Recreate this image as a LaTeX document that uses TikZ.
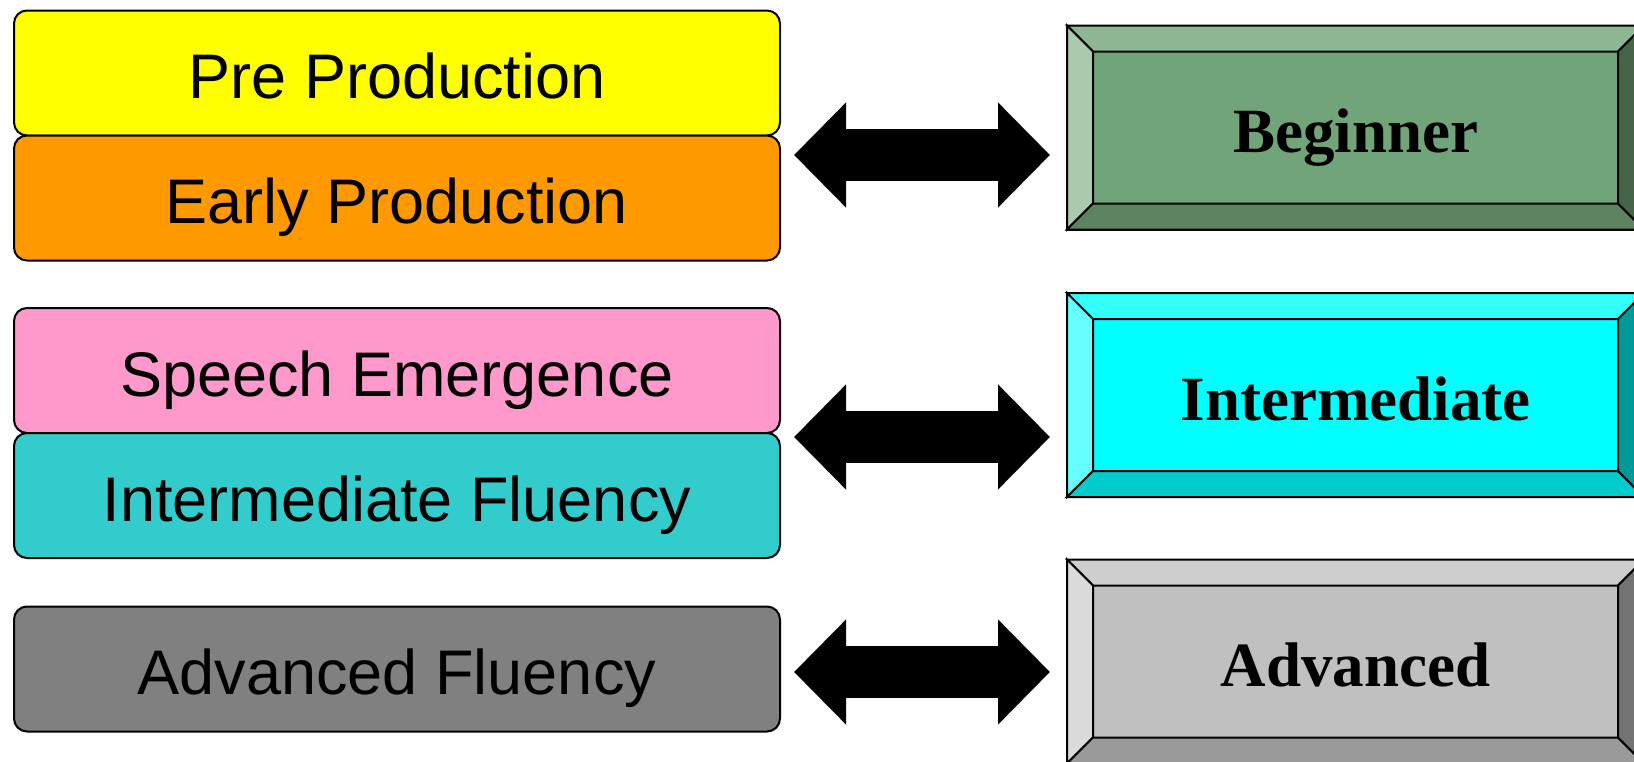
\documentclass[tikz,border=0pt]{standalone}
\definecolor{preyellow}{RGB}{255, 255, 0}
\definecolor{earlyorange}{RGB}{255, 153, 0}
\definecolor{speechpink}{RGB}{255, 153, 204}
\definecolor{fluteal}{RGB}{51, 204, 204}
\definecolor{advgray}{RGB}{128, 128, 128}
\definecolor{begmid}{RGB}{114, 164, 121}
\definecolor{begtop}{RGB}{141, 182, 146}
\definecolor{begleft}{RGB}{170, 202, 174}
\definecolor{begbottom}{RGB}{93, 131, 97}
\definecolor{begright}{RGB}{69, 100, 72}
\definecolor{intmid}{RGB}{0, 255, 255}
\definecolor{inttop}{RGB}{51, 255, 255}
\definecolor{intleft}{RGB}{102, 255, 255}
\definecolor{intbottom}{RGB}{0, 204, 204}
\definecolor{intright}{RGB}{0, 153, 153}
\definecolor{advmid}{RGB}{192, 192, 192}
\definecolor{advtop}{RGB}{205, 205, 205}
\definecolor{advleft}{RGB}{218, 218, 218}
\definecolor{advbottom}{RGB}{154, 154, 154}
\definecolor{advright}{RGB}{115, 115, 115}
\usepackage{fontspec}
\setmainfont{Liberation Serif}
\newfontfamily\arialfont{Liberation Sans}
\usepackage{tikz}
\usetikzlibrary{arrows.meta, positioning, calc}

% bevel frame round a level node: node, top, left, bottom, right
\newcommand{\bevelframe}[5]{%
  \coordinate (#1-nw) at ([shift={(26pt,-26pt)}]#1.north west);
  \coordinate (#1-ne) at ([shift={(-26pt,-26pt)}]#1.north east);
  \coordinate (#1-se) at ([shift={(-26pt,26pt)}]#1.south east);
  \coordinate (#1-sw) at ([shift={(26pt,26pt)}]#1.south west);
  \filldraw[bevel, fill=#2] (#1.north west) -- (#1.north east) -- (#1-ne) -- (#1-nw) -- cycle;
  \filldraw[bevel, fill=#3] (#1.north west) -- (#1-nw) -- (#1-sw) -- (#1.south west) -- cycle;
  \filldraw[bevel, fill=#4] (#1.south west) -- (#1-sw) -- (#1-se) -- (#1.south east) -- cycle;
  \filldraw[bevel, fill=#5] (#1.north east) -- (#1.south east) -- (#1-se) -- (#1-ne) -- cycle;
}

\begin{document}
\begin{tikzpicture}[
      x=1pt, y=-1pt,
      stagebox/.style={rectangle, draw=black, line width=2pt, rounded corners=13pt, outer sep=0pt, inner sep=0pt, minimum width=766pt, minimum height=125pt, text height=51pt, text depth=0pt, font=\arialfont\fontsize{63}{70}\selectfont},
      levelbox/.style={rectangle, draw=black, line width=2pt, outer sep=0pt, inner sep=0pt, minimum width=577pt, minimum height=204pt, text height=50pt, text depth=0pt, font=\bfseries\fontsize{63}{70}\selectfont},
      bevel/.style={draw=black, line width=2pt, line join=miter},
      blockarrow/.style={draw=black, line width=52pt, {Triangle[length=52pt, width=102pt]}-{Triangle[length=52pt, width=102pt]}}
    ]
      \useasboundingbox (0,0) rectangle (1634,761);

      % stages on the left
      \node (pre) [stagebox, fill=preyellow] at (397,73) {Pre Production};
      \node (early) [stagebox, fill=earlyorange, below=0pt of pre] {Early Production};
      \node (speech) [stagebox, fill=speechpink] at (397,370.5) {Speech Emergence};
      \node (interflu) [stagebox, fill=fluteal, below=0pt of speech] {Intermediate Fluency};
      \node (advflu) [stagebox, fill=advgray] at (397,669) {Advanced Fluency};

      % levels on the right
      \node (beg) [levelbox, fill=begmid] at (1355.5,127.5) {Beginner};
      \bevelframe{beg}{begtop}{begleft}{begbottom}{begright}
      \node (inter) [levelbox, fill=intmid] at (1355.5,395) {Intermediate};
      \bevelframe{inter}{inttop}{intleft}{intbottom}{intright}
      \node (adv) [levelbox, fill=advmid] at (1355.5,661.5) {Advanced};
      \bevelframe{adv}{advtop}{advleft}{advbottom}{advright}

      \draw[blockarrow] ([xshift=14pt, yshift=-19.5pt]pre.south east) -- ([xshift=-17pt, yshift=-27.5pt]beg.west);
      \draw[blockarrow] ([xshift=14pt, yshift=-4pt]speech.south east) -- ([xshift=-17pt, yshift=-42pt]inter.west);
      \draw[blockarrow] ([xshift=14pt, yshift=-3pt]advflu.east) -- ([xshift=-17pt, yshift=-10.5pt]adv.west);
    \end{tikzpicture}
\end{document}
